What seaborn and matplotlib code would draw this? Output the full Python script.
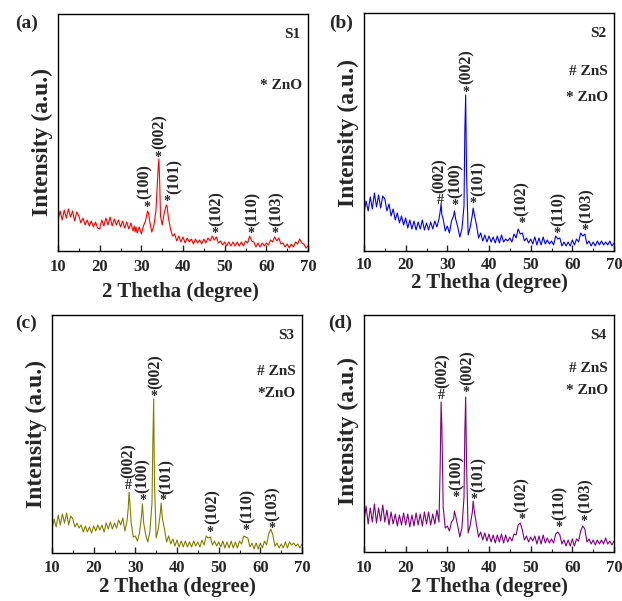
import numpy as np
import pandas as pd
import matplotlib
matplotlib.use("Agg")
import matplotlib.pyplot as plt
from matplotlib.ticker import MultipleLocator
import seaborn as sns

# ---------------- data (intensity in arbitrary units) ----------------
two_theta = [
    10.0, 10.5, 11.0, 11.5, 12.0, 12.5, 13.0, 13.5, 14.0, 14.5,
    15.0, 15.5, 16.0, 16.5, 17.0, 17.5, 18.0, 18.5, 19.0, 19.5,
    20.0, 20.5, 21.0, 21.5, 22.0, 22.5, 23.0, 23.5, 24.0, 24.5,
    25.0, 25.5, 26.0, 26.5, 27.0, 27.5, 28.0, 28.3, 28.5, 28.7,
    29.0, 29.5, 30.0, 30.5, 31.0, 31.5, 31.7, 32.0, 32.5, 33.0,
    33.5, 34.0, 34.2, 34.4, 34.6, 35.0, 35.5, 36.0, 36.2, 36.5,
    37.0, 37.5, 38.0, 38.5, 39.0, 39.5, 40.0, 40.5, 41.0, 41.5,
    42.0, 42.5, 43.0, 43.5, 44.0, 44.5, 45.0, 45.5, 46.0, 46.5,
    47.0, 47.5, 48.0, 48.5, 49.0, 49.5, 50.0, 50.5, 51.0, 51.5,
    52.0, 52.5, 53.0, 53.5, 54.0, 54.5, 55.0, 55.5, 56.0, 56.5,
    57.0, 57.5, 58.0, 58.5, 59.0, 59.5, 60.0, 60.5, 61.0, 61.5,
    62.0, 62.5, 63.0, 63.5, 64.0, 64.5, 65.0, 65.5, 66.0, 66.5,
    67.0, 67.5, 68.0, 68.5, 69.0, 69.5, 70.0,
]

intensity_s1 = [
    30, 40, 31, 41, 33, 42, 34, 40, 30, 39,
    35, 28, 33, 26, 31, 25, 30, 24, 29, 23,
    22, 31, 25, 33, 26, 34, 25, 32, 26, 31,
    24, 30, 23, 29, 22, 28, 20, 25, 19, 24,
    18, 24, 17, 25, 30, 40, 38, 30, 19, 25,
    40, 80, 92, 70, 35, 26, 38, 46, 44, 33,
    22, 15, 17, 10, 15, 9, 14, 8, 13, 9,
    12, 7, 12, 8, 11, 7, 12, 8, 13, 10,
    15, 11, 14, 8, 10, 6, 9, 5, 9, 5,
    9, 5, 9, 5, 9, 5, 10, 8, 15, 10,
    9, 4, 8, 4, 8, 5, 8, 6, 11, 9,
    14, 10, 13, 7, 8, 4, 7, 3, 7, 4,
    9, 7, 12, 8, 7, 3, 5,
]

intensity_s2 = [
    38, 50, 40, 54, 42, 58, 44, 56, 43, 55,
    52, 40, 47, 35, 42, 31, 38, 28, 35, 26,
    33, 23, 31, 22, 30, 21, 29, 22, 31, 21,
    28, 21, 29, 22, 30, 24, 32, 40, 47, 36,
    32, 20, 25, 18, 30, 35, 40, 32, 24, 14,
    22, 45, 120, 156, 80, 16, 24, 36, 43, 36,
    26, 13, 18, 10, 16, 9, 15, 9, 14, 8,
    15, 8, 16, 9, 12, 10, 13, 9, 17, 13,
    22, 17, 18, 10, 13, 8, 12, 7, 14, 6,
    13, 6, 14, 7, 11, 7, 10, 6, 15, 12,
    13, 5, 9, 5, 9, 5, 11, 6, 12, 9,
    18, 15, 17, 7, 10, 5, 9, 5, 10, 6,
    10, 6, 9, 6, 10, 5, 8,
]

intensity_s3 = [
    24, 34, 26, 38, 28, 39, 30, 40, 28, 37,
    34, 26, 30, 25, 28, 21, 27, 21, 26, 20,
    27, 22, 28, 23, 28, 21, 30, 24, 31, 24,
    30, 25, 33, 28, 35, 22, 32, 45, 61, 50,
    30, 16, 17, 12, 20, 38, 49, 30, 18, 11,
    22, 50, 110, 154, 70, 15, 24, 40, 50, 34,
    24, 11, 17, 9, 14, 7, 13, 6, 12, 6,
    12, 6, 11, 6, 12, 7, 11, 6, 13, 8,
    17, 15, 16, 8, 12, 7, 11, 6, 12, 5,
    11, 5, 12, 5, 11, 5, 12, 9, 17, 16,
    15, 6, 10, 4, 10, 4, 10, 5, 12, 8,
    19, 24, 18, 7, 10, 5, 9, 5, 11, 5,
    11, 8, 10, 7, 9, 5, 9,
]

intensity_s4 = [
    30, 46, 28, 44, 30, 48, 29, 44, 31, 47,
    30, 42, 27, 40, 28, 38, 26, 37, 27, 39,
    27, 38, 25, 37, 26, 39, 27, 38, 26, 40,
    28, 40, 27, 38, 28, 42, 30, 90, 150, 124,
    45, 24, 26, 21, 30, 33, 41, 36, 26, 15,
    24, 55, 120, 155, 90, 19, 27, 40, 51, 40,
    27, 15, 20, 12, 19, 11, 18, 10, 17, 9,
    17, 10, 18, 9, 17, 10, 15, 11, 18, 17,
    27, 29, 22, 12, 16, 10, 15, 11, 16, 8,
    16, 8, 17, 9, 14, 9, 13, 9, 18, 20,
    17, 8, 12, 6, 12, 6, 13, 6, 13, 11,
    21, 26, 23, 10, 13, 8, 12, 7, 12, 8,
    12, 8, 14, 8, 11, 7, 11,
]

samples = ["S1", "S2", "S3", "S4"]
panel_tags = ["(a)", "(b)", "(c)", "(d)"]
x_ticks = [10, 20, 30, 40, 50, 60, 70]

# peak annotations: (symbol, x, symbol height, hkl label, label x, label base height)
peaks_s1 = [("*", 31.4, 47, "(100)", 30.8, 52), ("*", 34.0, 97, "(002)", 34.4, 102),
            ("*", 36.2, 53, "(101)", 38.0, 57), ("*", 47.6, 21, "(102)", 48.0, 25),
            ("*", 56.4, 21, "(110)", 56.6, 25), ("*", 62.0, 21, "(103)", 62.4, 25)]
peaks_s2 = [("#", 28.2, 52, "(002)", 28.2, 58), ("*", 31.8, 49, "(100)", 32.0, 53),
            ("*", 34.4, 162, "(002)", 34.6, 167), ("*", 36.2, 51, "(101)", 37.4, 55),
            ("*", 48.0, 31, "(102)", 47.8, 35), ("*", 56.4, 21, "(110)", 56.8, 25),
            ("*", 63.0, 24, "(103)", 63.4, 28)]
peaks_s3 = [("#", 28.4, 69, "(002)", 28.4, 75), ("*", 31.8, 56, "(100)", 31.8, 60),
            ("*", 34.4, 160, "(002)", 34.8, 164), ("*", 36.6, 56, "(101)", 37.6, 59),
            ("*", 47.8, 24, "(102)", 48.5, 29), ("*", 56.6, 26, "(110)", 57.0, 30),
            ("*", 62.8, 28, "(103)", 63.0, 32)]
peaks_s4 = [("#", 28.6, 158, "(002)", 28.9, 164), ("*", 32.1, 58, "(100)", 32.3, 62),
            ("*", 34.5, 163, "(002)", 34.9, 167), ("*", 36.4, 56, "(101)", 37.4, 60),
            ("*", 47.8, 36, "(102)", 47.9, 40), ("*", 56.8, 28, "(110)", 57.0, 32),
            ("*", 62.8, 34, "(103)", 63.2, 39)]

legend_s1 = ["* ZnO"]
legend_s2 = ["# ZnS", "* ZnO"]
legend_s3 = ["# ZnS", "*ZnO"]
legend_s4 = ["# ZnS", "* ZnO"]

# ---------------- styling ----------------
sns.set_style("ticks")
plt.rcParams["font.family"] = ["Liberation Serif", "DejaVu Serif"]
plt.rcParams["font.weight"] = "bold"
plt.rcParams["axes.labelweight"] = "bold"

W, H = 622, 601
fig = plt.figure(figsize=(W / 100, H / 100), dpi=100)

# axes boxes in pixels: left, top, right, bottom
boxes = [(58, 14, 308, 251), (364, 13, 614, 251), (52, 315, 302, 553), (364, 315, 614, 552)]
colors = ["#ff0000", "#0000ff", "#808000", "#800080"]
series = [intensity_s1, intensity_s2, intensity_s3, intensity_s4]
peaks = [peaks_s1, peaks_s2, peaks_s3, peaks_s4]
legends = [legend_s1, legend_s2, legend_s3, legend_s4]
legend_y = [[0.70], [0.755, 0.645], [0.762, 0.67], [0.774, 0.682]]
xlabel_y = [-0.174, -0.135, -0.142, -0.146]
xlabel_x = [0.49, 0.50, 0.50, 0.50]
ylabel_y = [0.458, 0.494, 0.498, 0.51]
tick_pad = [6, 4, 5, 6]
tag_xy = [(27, 23), (341, 23), (26, 323), (340, 323)]

for i in range(4):
    l, t, r, b = boxes[i]
    ax = fig.add_axes([l / W, 1 - b / H, (r - l) / W, (b - t) / H])
    df = pd.DataFrame({"two_theta": two_theta, "intensity": series[i]})
    sns.lineplot(data=df, x="two_theta", y="intensity", ax=ax, color=colors[i],
                 lw=0.8, errorbar=None, sort=False)
    ax.set_xlim(10, 70)
    ax.set_ylim(0, b - t)
    ax.set_xticks(x_ticks)
    ax.xaxis.set_minor_locator(MultipleLocator(5))
    ax.set_yticks([])
    ax.tick_params(axis="x", which="major", direction="in", length=4, width=1,
                   labelsize=12, pad=tick_pad[i])
    ax.tick_params(axis="x", which="minor", direction="in", length=2, width=0.8)
    for lab in ax.get_xticklabels():
        lab.set_fontweight("bold")
    for sp in ax.spines.values():
        sp.set_visible(True)
        sp.set_linewidth(1.0)
        sp.set_color("black")
    ax.set_xlabel("2 Thetha (degree)", fontsize=15, fontweight="bold")
    ax.xaxis.set_label_coords(xlabel_x[i], xlabel_y[i])
    ax.xaxis.label.set_va("center")
    ax.set_ylabel("Intensity (a.u.)", fontsize=17, fontweight="bold")
    ax.yaxis.set_label_coords(-0.064, ylabel_y[i])
    ax.yaxis.label.set_va("center")

    for sym, px, ph, hkl, tx, th in peaks[i]:
        # data units equal pixels vertically; shift baseline so the glyph centres on ph
        off = 7 if sym == "*" else 5
        ax.text(px, ph - off, sym, ha="center", va="baseline", fontsize=10,
                fontweight="bold")
        ax.text(tx, th, hkl, ha="center", va="bottom", rotation=90, fontsize=11.5,
                fontweight="bold")

    ax.text(0.968, 0.915, samples[i], transform=ax.transAxes, ha="right", va="center",
            fontsize=11, fontweight="bold")
    for txt, yy in zip(legends[i], legend_y[i]):
        ax.text(0.975, yy, txt, transform=ax.transAxes, ha="right", va="center",
                fontsize=11, fontweight="bold")

    fig.text(tag_xy[i][0] / W, 1 - tag_xy[i][1] / H, panel_tags[i], ha="center",
             va="center", fontsize=14, fontweight="bold")

fig.savefig("out.png", dpi=100)
